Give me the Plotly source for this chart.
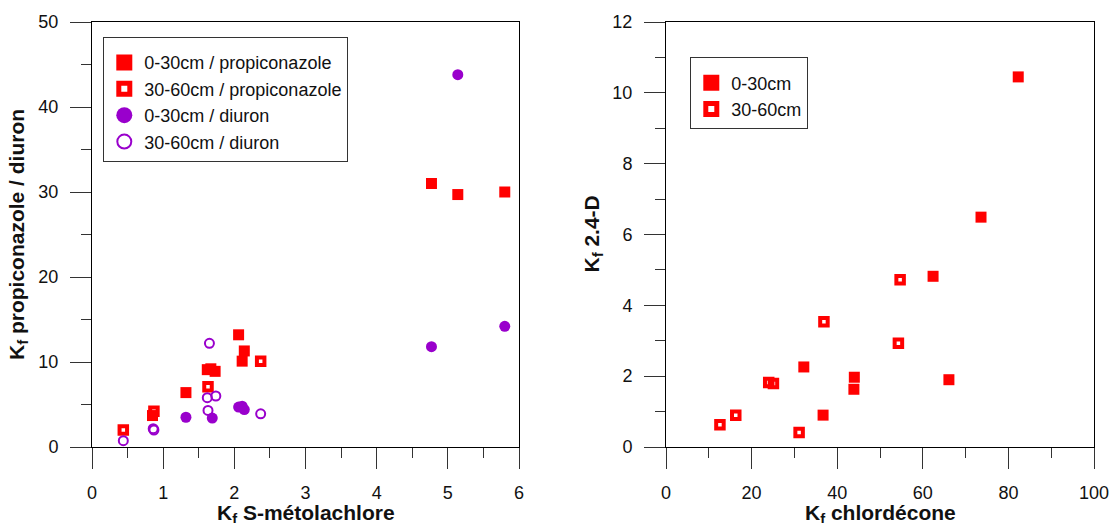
import plotly.graph_objects as go

RED = "#FF0000"
PURPLE = "#9900CC"
FONT = "Arial, Liberation Sans, sans-serif"

# ---- Left panel data: Kf S-metolachlore vs Kf propiconazole / diuron ----
metol_030_prop = [4.77, 5.14, 5.80, 2.06, 2.14, 2.11, 1.62, 1.67, 1.73, 1.32, 0.85]
prop_030 = [31.0, 29.7, 30.0, 13.2, 11.3, 10.1, 9.1, 9.2, 8.9, 6.4, 3.7]
metol_3060_prop = [0.44, 0.87, 1.63, 2.37]
prop_3060 = [2.0, 4.2, 7.1, 10.1]
metol_030_diu = [1.32, 1.69, 2.06, 2.11, 2.14, 4.77, 5.14, 5.80]
diu_030 = [3.5, 3.4, 4.7, 4.8, 4.4, 11.8, 43.8, 14.2]
metol_3060_diu = [0.44, 0.86, 0.87, 1.65, 1.62, 1.74, 1.63, 2.37]
diu_3060 = [0.74, 2.15, 2.0, 12.2, 5.8, 6.0, 4.3, 3.9]

# ---- Right panel data: Kf chlordecone vs Kf 2.4-D ----
chlor_030 = [82.3, 73.6, 62.4, 32.2, 44.0, 43.9, 66.1, 36.7]
d24_030 = [10.45, 6.49, 4.82, 2.26, 1.97, 1.63, 1.90, 0.90]
chlor_3060 = [54.7, 36.9, 54.3, 24.0, 25.1, 16.3, 12.6, 31.1]
d24_3060 = [4.72, 3.54, 2.93, 1.82, 1.79, 0.90, 0.63, 0.41]

left_names = ["0-30cm / propiconazole", "30-60cm / propiconazole",
              "0-30cm / diuron", "30-60cm / diuron"]
right_names = ["0-30cm", "30-60cm"]
axis_titles = ["<b>K<sub>f</sub> S-métolachlore</b>",
               "<b>K<sub>f</sub> propiconazole / diuron</b>",
               "<b>K<sub>f</sub> chlordécone</b>",
               "<b>K<sub>f</sub> 2.4-D</b>"]

fig = go.Figure()

sq_f = dict(symbol="square", size=11, color=RED, line=dict(width=0))
sq_o = dict(symbol="square-open", size=7.5, color=RED, line=dict(width=4, color=RED))
ci_f = dict(symbol="circle", size=11, color=PURPLE, line=dict(width=0))
ci_o = dict(symbol="circle-open", size=9, color=PURPLE, line=dict(width=2, color=PURPLE))

# legend-only styles (larger symbols as in the reference legend)
lsq_f = dict(symbol="square", size=16, color=RED, line=dict(width=0))
lsq_o = dict(symbol="square-open", size=11, color=RED, line=dict(width=5, color=RED))
lci_f = dict(symbol="circle", size=16, color=PURPLE, line=dict(width=0))
lci_o = dict(symbol="circle-open", size=14, color=PURPLE, line=dict(width=2, color=PURPLE))

left_sets = [(metol_030_prop, prop_030, sq_f, lsq_f),
             (metol_3060_prop, prop_3060, sq_o, lsq_o),
             (metol_030_diu, diu_030, ci_f, lci_f),
             (metol_3060_diu, diu_3060, ci_o, lci_o)]
for name, (xs, ys, m, lm) in zip(left_names, left_sets):
    fig.add_trace(go.Scatter(x=xs, y=ys, mode="markers", marker=m, name=name,
                             showlegend=False, xaxis="x", yaxis="y"))
for name, (xs, ys, m, lm) in zip(left_names, left_sets):
    fig.add_trace(go.Scatter(x=[None], y=[None], mode="markers", marker=lm, name=name,
                             legend="legend", xaxis="x", yaxis="y"))

right_sets = [(chlor_030, d24_030, sq_f, lsq_f),
              (chlor_3060, d24_3060, sq_o, lsq_o)]
for name, (xs, ys, m, lm) in zip(right_names, right_sets):
    fig.add_trace(go.Scatter(x=xs, y=ys, mode="markers", marker=m, name=name,
                             showlegend=False, xaxis="x2", yaxis="y2"))
for name, (xs, ys, m, lm) in zip(right_names, right_sets):
    fig.add_trace(go.Scatter(x=[None], y=[None], mode="markers", marker=lm, name=name,
                             legend="legend2", xaxis="x2", yaxis="y2"))

W, H = 1112, 523
T, B = 22, 76
PH = H - T - B


def axis(domain, rng, dtick, mdtick, anchor):
    return dict(
        domain=domain, range=rng, tick0=0, dtick=dtick, anchor=anchor,
        automargin=False,
        ticks="outside", ticklen=21, tickwidth=1, tickcolor="#333",
        minor=dict(ticks="outside", ticklen=10, dtick=mdtick, tick0=0,
                   tickwidth=1, tickcolor="#333", showgrid=False),
        showline=True, linecolor="black", linewidth=1, mirror=True,
        showgrid=False, zeroline=False,
        tickfont=dict(family=FONT, size=18, color="#111"),
        ticklabelstandoff=8,
    )


def px(x):
    return x / W


def py(y):
    return (H - B - y) / PH


title_font = dict(family=FONT, size=21, color="#111")
annotations = [
    dict(text=axis_titles[0], x=px(305.5), y=py(514), textangle=0),
    dict(text=axis_titles[1], x=px(17.5), y=py(234.5), textangle=-90),
    dict(text=axis_titles[2], x=px(880), y=py(514), textangle=0),
    dict(text=axis_titles[3], x=px(592), y=py(234.5), textangle=-90),
]
for a in annotations:
    a.update(xref="paper", yref="paper", xanchor="center", yanchor="middle",
             showarrow=False, font=title_font)

legend_common = dict(xanchor="left", yanchor="top",
                     bordercolor="#333", borderwidth=1, bgcolor="white",
                     font=dict(family=FONT, size=18, color="#111"),
                     itemsizing="trace", tracegroupgap=0,
                     title=dict(text="&nbsp;", font=dict(size=5)))

fig.update_layout(
    width=W, height=H,
    margin=dict(l=0, r=0, t=T, b=B, autoexpand=False),
    paper_bgcolor="white", plot_bgcolor="white",
    font=dict(family=FONT, size=18, color="#111"),
    xaxis=axis([px(92), px(519)], [0, 6], 1, 0.5, "y"),
    yaxis=axis([0, 1], [0, 50], 10, 5, "x"),
    xaxis2=axis([px(666), px(1094)], [0, 100], 20, 10, "y2"),
    yaxis2=axis([0, 1], [0, 12], 2, 1, "x2"),
    annotations=annotations,
    legend=dict(x=px(103.3), y=py(36.7), **legend_common),
    legend2=dict(x=px(690.3), y=py(57), **legend_common),
)

# remove the browser's default page margin so the figure fills the window exactly
fig.write_html("out.html",
               config={"displayModeBar": False},
               post_script="document.body.style.margin='0';"
                           "document.documentElement.style.overflow='hidden';")
